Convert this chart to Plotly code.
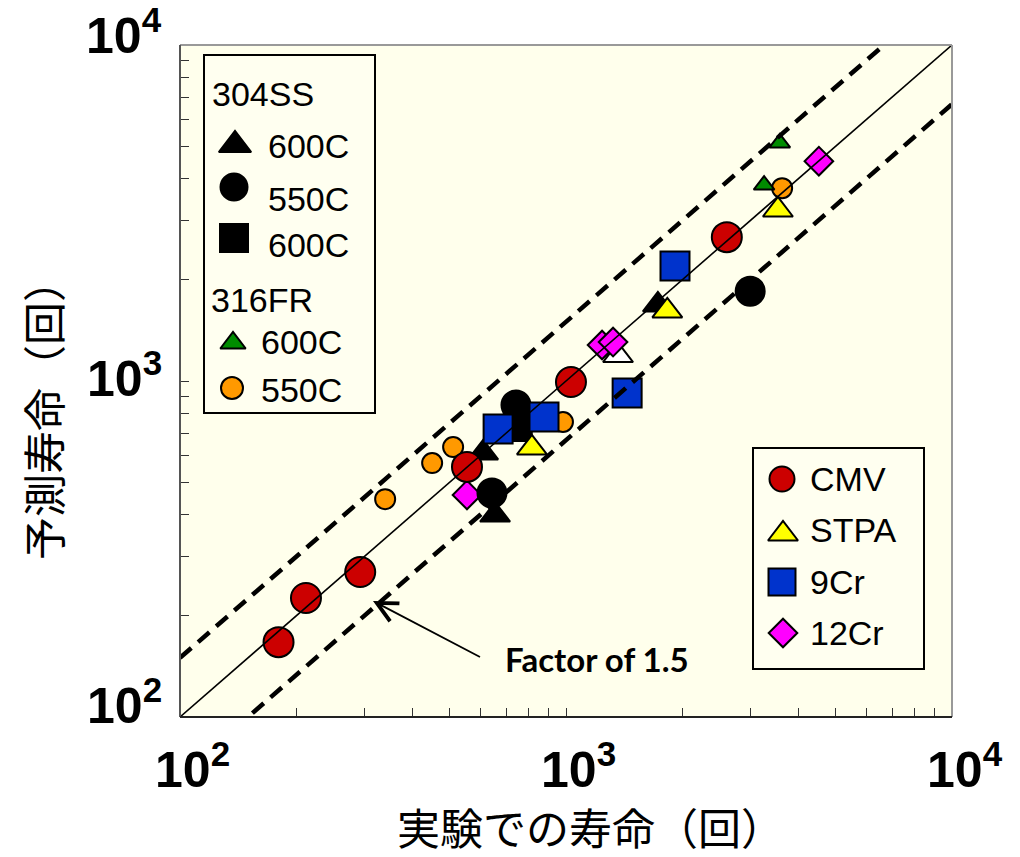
import plotly.graph_objects as go

# ---------------- data ----------------
cmv_x = [180, 212, 293, 554, 1030, 2610]
cmv_y = [167, 226, 270, 555, 993, 2680]

stpa_x = [816, 1830, 3540]
stpa_y = [632, 1616, 3228]

cr9_x = [667, 877, 1440, 1916]
cr9_y = [720, 781, 921, 2200]

cr12_x = [554, 1240, 1324, 4520]
cr12_y = [458, 1280, 1306, 4510]

ss304_600_tri_x = [610, 655, 1730]
ss304_600_tri_y = [611, 399, 1684]

ss304_550_x = [742, 643, 3000]
ss304_550_y = [848, 464, 1850]

ss304_600_sq_x = [750]
ss304_600_sq_y = [730]

fr316_600_x = [3580, 3260]
fr316_600_y = [5110, 3830]

fr316_550_x = [340, 450, 510, 982, 3630]
fr316_550_y = [445, 570, 636, 755, 3750]

other_x = [1364]
other_y = [1190]

line_x = [100, 10000]
factor = 1.5

x_tick_labels = ["10<sup>2</sup>", "10<sup>3</sup>", "10<sup>4</sup>"]
y_tick_labels = ["10<sup>2</sup>", "10<sup>3</sup>", "10<sup>4</sup>"]

legend1_title_a = "304SS"
legend1_title_b = "316FR"
legend1_labels = ["600C", "550C", "600C", "600C", "550C"]
legend2_labels = ["CMV", "STPA", "9Cr", "12Cr"]

x_title = "実験での寿命（回）"
y_title = "予測寿命（回）"
note_text = "Factor of 1.5"

# ---------------- styles ----------------
BG = "#FFFFEC"
RED = "#CC0000"
YEL = "#FFFF00"
BLUE = "#0033CC"
PINK = "#FF00FF"
GREEN = "#008C00"
ORANGE = "#FF9900"
LW = 2

fig = go.Figure()

def add_pts(x, y, sym, size, color):
    fig.add_trace(go.Scatter(
        x=x, y=y, mode="markers", showlegend=False, hoverinfo="skip",
        marker=dict(symbol=sym, size=size, color=color,
                    line=dict(color="black", width=LW)),
        cliponaxis=False))

# draw order (back to front)
add_pts(other_x, other_y, "triangle-up", 26, "white")
add_pts(fr316_550_x, fr316_550_y, "circle", 20, ORANGE)
add_pts(fr316_600_x, fr316_600_y, "triangle-up", 18, GREEN)
add_pts(cr12_x, cr12_y, "diamond", 22, PINK)
add_pts(ss304_600_tri_x, ss304_600_tri_y, "triangle-up", 26, "black")
add_pts(ss304_600_sq_x, ss304_600_sq_y, "square", 28, "black")
add_pts(ss304_550_x, ss304_550_y, "circle", 29, "black")
add_pts(cmv_x, cmv_y, "circle", 30, RED)
add_pts(cr9_x, cr9_y, "square", 29, BLUE)
add_pts(stpa_x, stpa_y, "triangle-up", 26, YEL)

# reference lines (on top of markers)
fig.add_trace(go.Scatter(x=line_x, y=line_x, mode="lines", showlegend=False,
                         hoverinfo="skip", line=dict(color="black", width=1.6)))
fig.add_trace(go.Scatter(x=line_x, y=[v * factor for v in line_x], mode="lines",
                         showlegend=False, hoverinfo="skip",
                         line=dict(color="black", width=4.5, dash="15px,9px")))
fig.add_trace(go.Scatter(x=line_x, y=[v / factor for v in line_x], mode="lines",
                         showlegend=False, hoverinfo="skip",
                         line=dict(color="black", width=4.5, dash="15px,9px")))

# ---------------- custom legends (pixel overlay axes) ----------------
PW, PH = 772, 672  # plot-area size in px
L, T = 180, 45

def lx(px):
    return px - L

def ly(py):
    return py - T

leg_sym = [
    (235, 145, "triangle-up", 28, "black"),
    (234, 187, "circle", 27, "black"),
    (234, 238, "square", 28, "black"),
    (233, 343, "triangle-up", 22, GREEN),
    (232, 388, "circle", 22, ORANGE),
    (782, 479, "circle", 25, RED),
    (783, 534, "triangle-up", 26, YEL),
    (782, 582, "square", 27, BLUE),
    (783, 633, "diamond", 22, PINK),
]
for (px, py, sym, sz, col) in leg_sym:
    fig.add_trace(go.Scatter(
        x=[lx(px)], y=[ly(py)], xaxis="x2", yaxis="y2", mode="markers",
        showlegend=False, hoverinfo="skip", cliponaxis=False,
        marker=dict(symbol=sym, size=sz, color=col,
                    line=dict(color="black", width=LW))))

LEG_FONT = dict(family="Liberation Sans, Arial", size=34, color="black")
annotations = []

def text_px(px, py, txt, font=LEG_FONT, xanchor="left"):
    annotations.append(dict(x=lx(px), y=ly(py), xref="x2", yref="y2", text=txt,
                            showarrow=False, xanchor=xanchor, yanchor="middle",
                            font=font))

text_px(210, 94, legend1_title_a)
text_px(266, 146, legend1_labels[0])
text_px(266, 199, legend1_labels[1])
text_px(266, 245, legend1_labels[2])
text_px(209, 300, legend1_title_b)
text_px(259, 342, legend1_labels[3])
text_px(259, 390, legend1_labels[4])
text_px(808, 479, legend2_labels[0])
text_px(808, 530, legend2_labels[1])
text_px(808, 582, legend2_labels[2])
text_px(808, 633, legend2_labels[3])

shapes = [
    dict(type="rect", xref="x2", yref="y2", x0=lx(204), x1=lx(375), y0=ly(55), y1=ly(413),
         line=dict(color="black", width=2), fillcolor="#FFFFF0", layer="below"),
    dict(type="rect", xref="x2", yref="y2", x0=lx(753), x1=lx(924), y0=ly(448), y1=ly(669),
         line=dict(color="black", width=2), fillcolor="#FFFFF0", layer="below"),
    # frame: top & right gray, left & bottom dark
    dict(type="line", xref="paper", yref="paper", x0=0, x1=1, y0=1, y1=1,
         line=dict(color="#999999", width=2)),
    dict(type="line", xref="paper", yref="paper", x0=1, x1=1, y0=0, y1=1,
         line=dict(color="#999999", width=2)),
    dict(type="line", xref="paper", yref="paper", x0=0, x1=0, y0=0, y1=1,
         line=dict(color="#555555", width=2)),
    dict(type="line", xref="paper", yref="paper", x0=0, x1=1, y0=0, y1=0,
         line=dict(color="#222222", width=2)),
]

# tick labels
TICK_FONT = dict(family="Liberation Sans, Arial", size=50, color="black")
for i, lab in enumerate(x_tick_labels):
    annotations.append(dict(x=2 + i, xref="x", y=(717 - 766) / PH, yref="paper",
                            text="<b>" + lab + "</b>", showarrow=False,
                            xanchor="left", xshift=-27, yanchor="middle",
                            font=TICK_FONT))
y_label_centres = [702, 375, 32]
for i, lab in enumerate(y_tick_labels):
    annotations.append(dict(x=(164 - L) / PW, xref="paper",
                            y=(717 - y_label_centres[i]) / PH, yref="paper",
                            text="<b>" + lab + "</b>", showarrow=False,
                            xanchor="right", yanchor="middle", font=TICK_FONT))

# axis titles
TITLE_FONT = dict(family="Noto Sans CJK JP", size=43, color="black")
annotations.append(dict(x=(590 - L) / PW, y=(717 - 826) / PH, xref="paper", yref="paper",
                        text=x_title, showarrow=False, xanchor="center", yanchor="middle",
                        font=TITLE_FONT))
annotations.append(dict(x=(42 - L) / PW, y=(717 - 410) / PH, xref="paper", yref="paper",
                        text=y_title, showarrow=False, xanchor="center", yanchor="middle",
                        textangle=-90, font=TITLE_FONT))

# factor note with arrow
annotations.append(dict(x=lx(373), y=ly(601), xref="x2", yref="y2", text=" ",
                        showarrow=True, ax=482 - 373, ay=658 - 601, axref="pixel", ayref="pixel",
                        arrowhead=5, arrowsize=2.2, arrowwidth=1.8, arrowcolor="black",
                        font=dict(size=2)))
annotations.append(dict(x=lx(503), y=ly(659), xref="x2", yref="y2",
                        text="<b>" + note_text + "</b>", showarrow=False,
                        xanchor="left", yanchor="middle",
                        font=dict(family="Lato, Open Sans", size=33, color="black")))

tickvals = [k * 10 ** d for d in (2, 3) for k in range(1, 10)] + [10000]

fig.update_layout(
    width=1020, height=857,
    margin=dict(l=180, r=68, t=45, b=140),
    paper_bgcolor="white", plot_bgcolor=BG,
    showlegend=False,
    xaxis=dict(type="log", range=[2, 4], tickvals=tickvals, showticklabels=False,
               ticks="inside", ticklen=9, tickwidth=1, tickcolor="#333",
               showgrid=False, zeroline=False, showline=False),
    yaxis=dict(type="log", range=[2, 4], tickvals=tickvals, showticklabels=False,
               ticks="inside", ticklen=9, tickwidth=1, tickcolor="#333",
               showgrid=False, zeroline=False, showline=False),
    xaxis2=dict(overlaying="x", anchor="y2", range=[0, PW], visible=False, fixedrange=True),
    yaxis2=dict(overlaying="y", anchor="x2", range=[PH, 0], visible=False, fixedrange=True),
    annotations=annotations,
    shapes=shapes,
)

fig.write_html("out.html", post_script="document.body.style.margin='0';",
               config={"displayModeBar": False})
